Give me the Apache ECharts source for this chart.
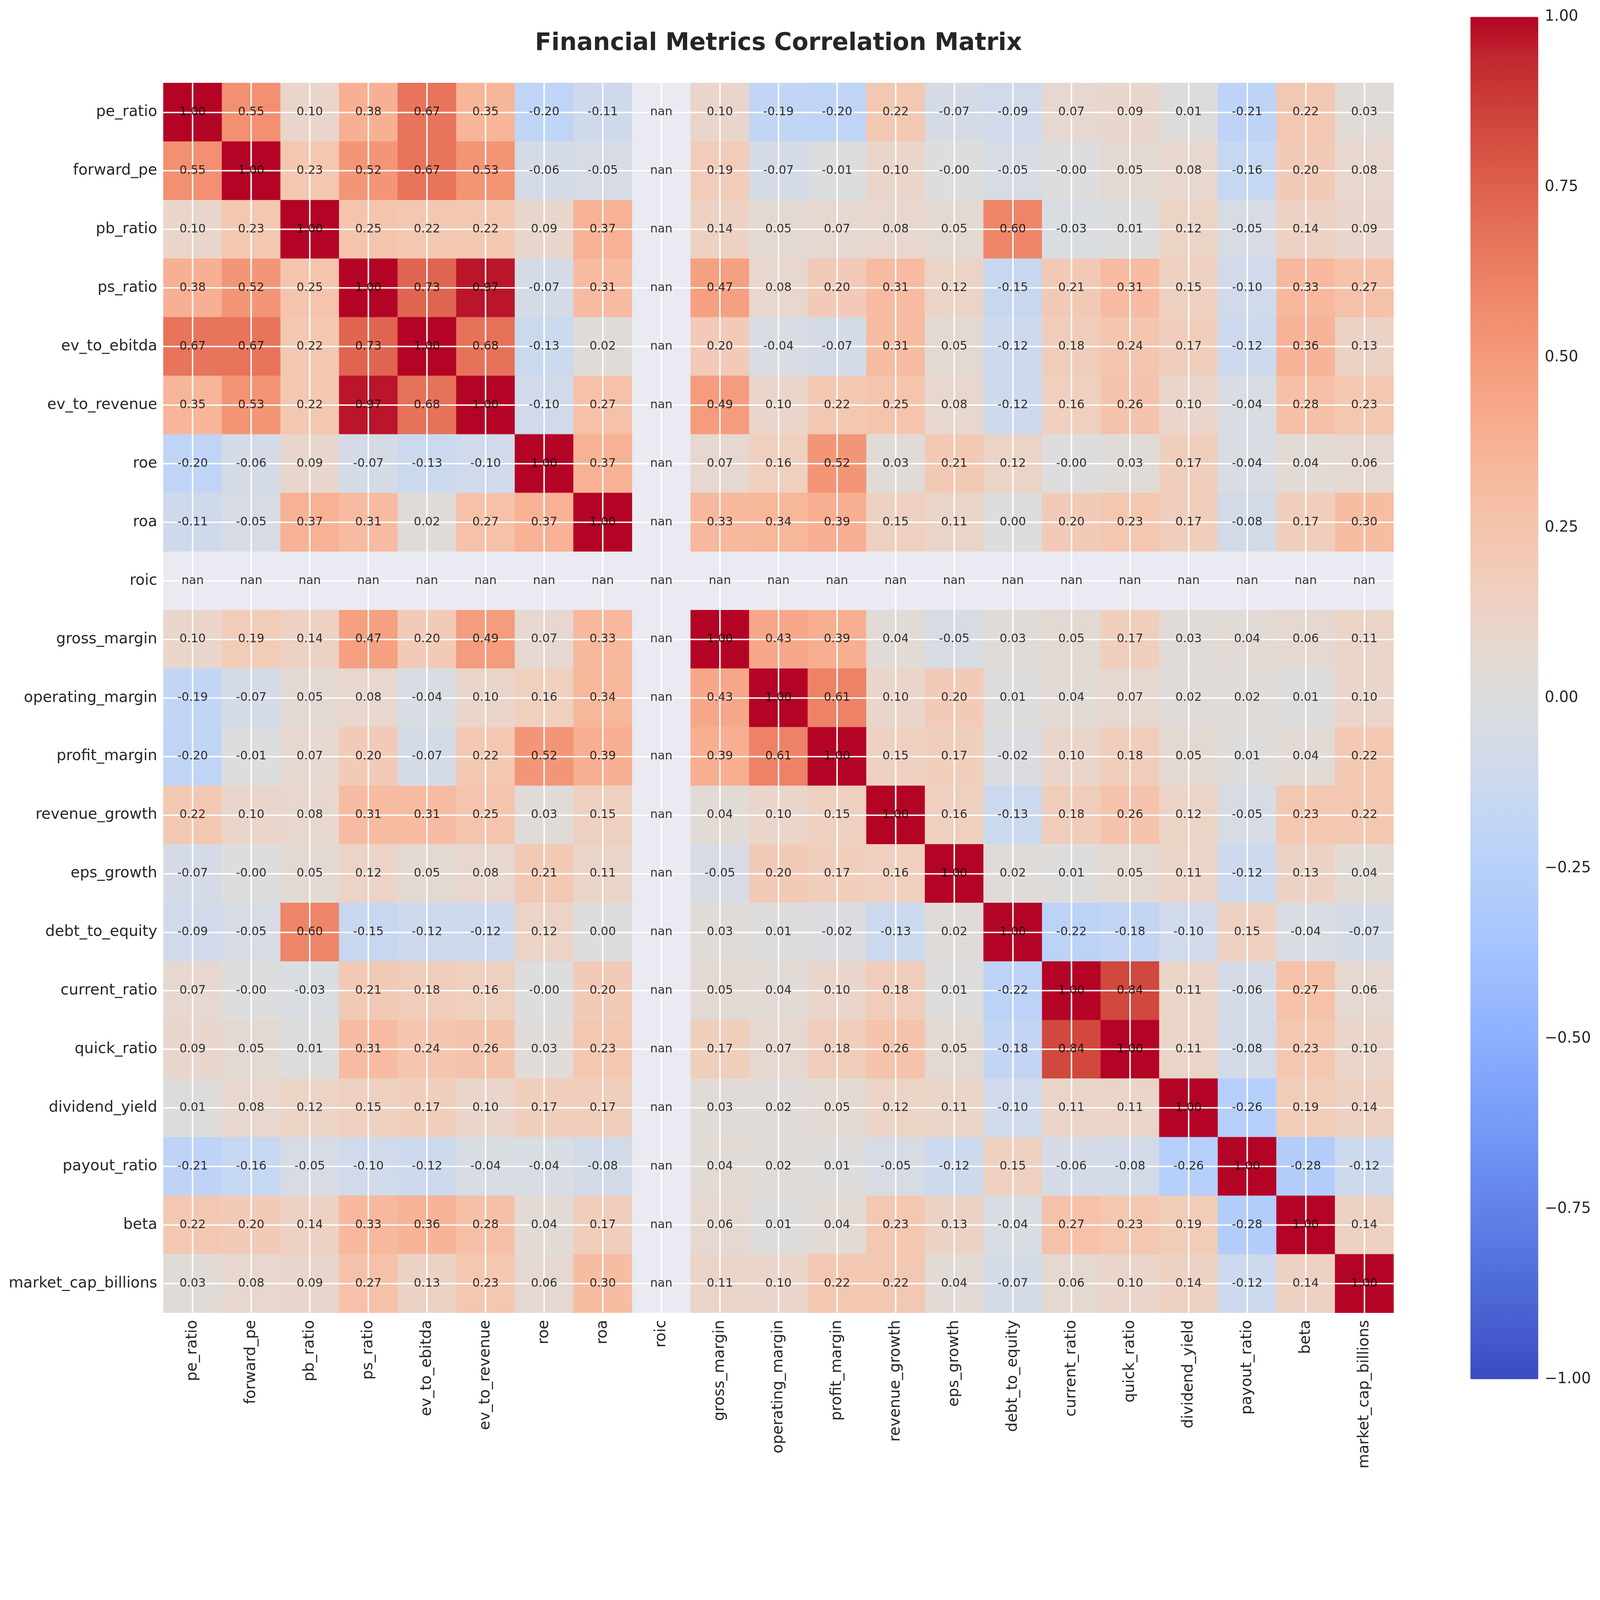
<!DOCTYPE html>
<html>
<head>
<meta charset="utf-8">
<script src="https://cdn.jsdelivr.net/npm/echarts@6/dist/echarts.min.js"></script>
<style>
  html, body { margin: 0; padding: 0; background: #ffffff; overflow: hidden; }
  #main { width: 100vw; height: 100vh; }
</style>
</head>
<body>
<div id="main"></div>
<script>
// metric names (row / column order)
var metrics = [
  'pe_ratio', 'forward_pe', 'pb_ratio', 'ps_ratio', 'ev_to_ebitda', 'ev_to_revenue',
  'roe', 'roa', 'roic', 'gross_margin', 'operating_margin', 'profit_margin',
  'revenue_growth', 'eps_growth', 'debt_to_equity', 'current_ratio', 'quick_ratio',
  'dividend_yield', 'payout_ratio', 'beta', 'market_cap_billions'
];

// correlation values, null = nan (roic has no variance)
var corr = [
  [1.00, 0.55, 0.10, 0.38, 0.67, 0.35, -0.20, -0.11, null, 0.10, -0.19, -0.20, 0.22, -0.07, -0.09, 0.07, 0.09, 0.01, -0.21, 0.22, 0.03],
  [0.55, 1.00, 0.23, 0.52, 0.67, 0.53, -0.06, -0.05, null, 0.19, -0.07, -0.01, 0.10, -0.00, -0.05, -0.00, 0.05, 0.08, -0.16, 0.20, 0.08],
  [0.10, 0.23, 1.00, 0.25, 0.22, 0.22, 0.09, 0.37, null, 0.14, 0.05, 0.07, 0.08, 0.05, 0.60, -0.03, 0.01, 0.12, -0.05, 0.14, 0.09],
  [0.38, 0.52, 0.25, 1.00, 0.73, 0.97, -0.07, 0.31, null, 0.47, 0.08, 0.20, 0.31, 0.12, -0.15, 0.21, 0.31, 0.15, -0.10, 0.33, 0.27],
  [0.67, 0.67, 0.22, 0.73, 1.00, 0.68, -0.13, 0.02, null, 0.20, -0.04, -0.07, 0.31, 0.05, -0.12, 0.18, 0.24, 0.17, -0.12, 0.36, 0.13],
  [0.35, 0.53, 0.22, 0.97, 0.68, 1.00, -0.10, 0.27, null, 0.49, 0.10, 0.22, 0.25, 0.08, -0.12, 0.16, 0.26, 0.10, -0.04, 0.28, 0.23],
  [-0.20, -0.06, 0.09, -0.07, -0.13, -0.10, 1.00, 0.37, null, 0.07, 0.16, 0.52, 0.03, 0.21, 0.12, -0.00, 0.03, 0.17, -0.04, 0.04, 0.06],
  [-0.11, -0.05, 0.37, 0.31, 0.02, 0.27, 0.37, 1.00, null, 0.33, 0.34, 0.39, 0.15, 0.11, 0.00, 0.20, 0.23, 0.17, -0.08, 0.17, 0.30],
  [null, null, null, null, null, null, null, null, null, null, null, null, null, null, null, null, null, null, null, null, null],
  [0.10, 0.19, 0.14, 0.47, 0.20, 0.49, 0.07, 0.33, null, 1.00, 0.43, 0.39, 0.04, -0.05, 0.03, 0.05, 0.17, 0.03, 0.04, 0.06, 0.11],
  [-0.19, -0.07, 0.05, 0.08, -0.04, 0.10, 0.16, 0.34, null, 0.43, 1.00, 0.61, 0.10, 0.20, 0.01, 0.04, 0.07, 0.02, 0.02, 0.01, 0.10],
  [-0.20, -0.01, 0.07, 0.20, -0.07, 0.22, 0.52, 0.39, null, 0.39, 0.61, 1.00, 0.15, 0.17, -0.02, 0.10, 0.18, 0.05, 0.01, 0.04, 0.22],
  [0.22, 0.10, 0.08, 0.31, 0.31, 0.25, 0.03, 0.15, null, 0.04, 0.10, 0.15, 1.00, 0.16, -0.13, 0.18, 0.26, 0.12, -0.05, 0.23, 0.22],
  [-0.07, -0.00, 0.05, 0.12, 0.05, 0.08, 0.21, 0.11, null, -0.05, 0.20, 0.17, 0.16, 1.00, 0.02, 0.01, 0.05, 0.11, -0.12, 0.13, 0.04],
  [-0.09, -0.05, 0.60, -0.15, -0.12, -0.12, 0.12, 0.00, null, 0.03, 0.01, -0.02, -0.13, 0.02, 1.00, -0.22, -0.18, -0.10, 0.15, -0.04, -0.07],
  [0.07, -0.00, -0.03, 0.21, 0.18, 0.16, -0.00, 0.20, null, 0.05, 0.04, 0.10, 0.18, 0.01, -0.22, 1.00, 0.84, 0.11, -0.06, 0.27, 0.06],
  [0.09, 0.05, 0.01, 0.31, 0.24, 0.26, 0.03, 0.23, null, 0.17, 0.07, 0.18, 0.26, 0.05, -0.18, 0.84, 1.00, 0.11, -0.08, 0.23, 0.10],
  [0.01, 0.08, 0.12, 0.15, 0.17, 0.10, 0.17, 0.17, null, 0.03, 0.02, 0.05, 0.12, 0.11, -0.10, 0.11, 0.11, 1.00, -0.26, 0.19, 0.14],
  [-0.21, -0.16, -0.05, -0.10, -0.12, -0.04, -0.04, -0.08, null, 0.04, 0.02, 0.01, -0.05, -0.12, 0.15, -0.06, -0.08, -0.26, 1.00, -0.28, -0.12],
  [0.22, 0.20, 0.14, 0.33, 0.36, 0.28, 0.04, 0.17, null, 0.06, 0.01, 0.04, 0.23, 0.13, -0.04, 0.27, 0.23, 0.19, -0.28, 1.00, 0.14],
  [0.03, 0.08, 0.09, 0.27, 0.13, 0.23, 0.06, 0.30, null, 0.11, 0.10, 0.22, 0.22, 0.04, -0.07, 0.06, 0.10, 0.14, -0.12, 0.14, 1.00]
];

// matplotlib coolwarm, sampled at 33 points
var coolwarm = [
  '#3b4cc0', '#445acc', '#4d68d7', '#5775e1', '#6282ea', '#6c8ef1', '#779af7', '#82a5fb',
  '#8db0fe', '#98b9ff', '#a3c2ff', '#aec9fd', '#b8d0f9', '#c2d5f4', '#ccd9ee', '#d5dbe6',
  '#dddddd', '#e5d8d1', '#ecd3c5', '#f1ccb9', '#f5c4ad', '#f7bba0', '#f7b194', '#f7a687',
  '#f49a7b', '#f18d6f', '#ec7f63', '#e57058', '#de604d', '#d55042', '#cb3e38', '#c0282f',
  '#b40426'
];

// everything below is laid out for a 4457 x 4112 picture; S maps it onto the real viewport
var S = Math.min(window.innerWidth / 4457, window.innerHeight / 4112);
function px(v) { return v * S; }

var plotLeft = px(455), plotTop = px(231), plotW = px(3427), plotH = px(3426);
var cellW = plotW / metrics.length, cellH = plotH / metrics.length;
var cbLeft = px(4096), cbTop = px(47), cbW = px(189), cbH = px(3795);
var font = 'DejaVu Sans';
var textColor = '#262626';

function fmt(v) {
  if (Object.is(v, -0)) return '-0.00';
  return v.toFixed(2);
}

var heatData = [], annData = [];
for (var r = 0; r < metrics.length; r++) {
  for (var c = 0; c < metrics.length; c++) {
    var v = corr[r][c];
    if (v === null) {
      annData.push([c, r, 'nan']);
    } else {
      heatData.push([c, r, v]);
      annData.push([c, r, fmt(v)]);
    }
  }
}

var chart = echarts.init(document.getElementById('main'));

var hiddenAxis = { axisLine: { show: false }, axisTick: { show: false }, axisLabel: { show: false }, splitLine: { show: false } };
var whiteGrid = { show: true, lineStyle: { color: '#ffffff', width: px(4) } };

var option = {
  animation: false,
  backgroundColor: '#ffffff',
  textStyle: { fontFamily: font },
  title: {
    text: 'Financial Metrics Correlation Matrix',
    left: plotLeft + plotW / 2,
    top: px(88),
    textAlign: 'center',
    padding: 0,
    textStyle: { fontSize: px(67), fontWeight: 'bold', color: textColor, fontFamily: font }
  },
  grid: [
    { left: plotLeft, top: plotTop, width: plotW, height: plotH, show: true, backgroundColor: '#EAEAF2', borderWidth: 0 },
    { left: plotLeft + cellW / 2, top: plotTop, width: plotW - cellW, height: plotH },
    { left: plotLeft, top: plotTop + cellH / 2, width: plotW, height: plotH - cellH },
    { left: cbLeft, top: cbTop, width: cbW, height: cbH }
  ],
  xAxis: [
    {
      gridIndex: 0, type: 'category', data: metrics,
      axisLine: { show: false }, axisTick: { show: false }, splitLine: { show: false },
      axisLabel: { interval: 0, rotate: 90, margin: px(20), fontSize: px(42), color: textColor, fontFamily: font }
    },
    Object.assign({ gridIndex: 1, type: 'value', min: 0, max: 20, interval: 1, z: 10 }, hiddenAxis, { splitLine: whiteGrid }),
    { gridIndex: 2, type: 'value', show: false },
    { gridIndex: 3, type: 'value', show: false }
  ],
  yAxis: [
    {
      gridIndex: 0, type: 'category', data: metrics, inverse: true,
      axisLine: { show: false }, axisTick: { show: false }, splitLine: { show: false },
      axisLabel: { interval: 0, margin: px(17), fontSize: px(42), color: textColor, fontFamily: font }
    },
    { gridIndex: 1, type: 'value', show: false },
    Object.assign({ gridIndex: 2, type: 'value', min: 0, max: 20, interval: 1, z: 10 }, hiddenAxis, { splitLine: whiteGrid }),
    {
      gridIndex: 3, type: 'value', min: -1, max: 1, interval: 0.25, position: 'right',
      axisLine: { show: false }, axisTick: { show: false }, splitLine: { show: false },
      axisLabel: {
        margin: px(18), fontSize: px(42), color: textColor, fontFamily: font,
        formatter: function (v) { return (v < 0 ? '\u2212' : '') + Math.abs(v).toFixed(2); }
      }
    }
  ],
  visualMap: {
    type: 'continuous',
    seriesIndex: 0,
    min: -1, max: 1,
    calculable: false,
    hoverLink: false,
    orient: 'vertical',
    left: cbLeft, top: cbTop,
    itemWidth: cbW, itemHeight: cbH,
    padding: 0,
    text: null,
    inRange: { color: coolwarm }
  },
  series: [
    {
      type: 'heatmap',
      xAxisIndex: 0, yAxisIndex: 0,
      data: heatData,
      silent: true,
      itemStyle: { borderWidth: 0 },
      label: { show: false }
    },
    {
      type: 'scatter',
      xAxisIndex: 0, yAxisIndex: 0,
      data: annData,
      silent: true,
      z: 20,
      symbolSize: 1,
      itemStyle: { color: 'rgba(0,0,0,0)' },
      label: {
        show: true, position: 'inside', color: '#000000', fontSize: px(33), fontFamily: font,
        formatter: function (p) { return p.data[2]; }
      }
    }
  ]
};

chart.setOption(option);
</script>
</body>
</html>
